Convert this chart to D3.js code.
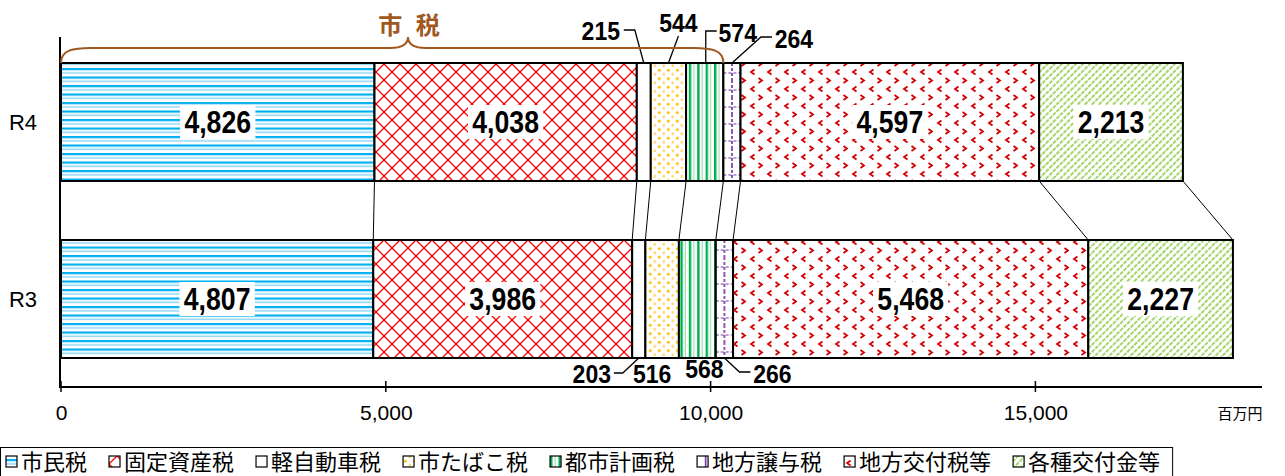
<!DOCTYPE html>
<html><head><meta charset="utf-8">
<script src="https://cdn.jsdelivr.net/npm/d3@7"></script>
<style>body{margin:0;background:#fff;overflow:hidden}</style>
</head><body><svg id="c" width="1285" height="476"></svg>
<script>
// ---- data ----
const categories = ["R4", "R3"];
const seriesNames = ["市民税","固定資産税","軽自動車税","市たばこ税","都市計画税","地方譲与税","地方交付税等","各種交付金等"];
const valuesR4 = [4826, 4038, 215, 544, 574, 264, 4597, 2213];
const valuesR3 = [4807, 3986, 203, 516, 568, 266, 5468, 2227];
const tickValues = [0, 5000, 10000, 15000];
const tickLabels = ["0", "5,000", "10,000", "15,000"];
const unitLabel = "百万円";
const groupLabel = "市 税";
const groupSeriesCount = 5;

(function () {
// ---- layout (not data) ----
const svg = d3.select("#c");
const x = d3.scaleLinear().domain([0, 18000]).range([61, 61 + 18000 * 0.06496]);
const y = d3.scaleBand().domain(categories).range([63, 358]).paddingInner(1/3).paddingOuter(0);
const JP = "'Noto Sans CJK JP','Noto Sans',sans-serif";
const NUM = "'Liberation Sans Narrow','Liberation Sans',Arial,sans-serif";

const rows = [
  {cat: "R4", vals: valuesR4},
  {cat: "R3", vals: valuesR3}
];
rows.forEach(r => {
  let c = 0;
  r.segs = r.vals.map((v, i) => { const s = {i, v, x0: c, x1: c + v, cat: r.cat}; c += v; return s; });
});

// ---- patterns ----
const defs = svg.append("defs");
function pat(id, w, h, opts = {}) {
  const p = defs.append("pattern").attr("id", id).attr("patternUnits", opts.units || "userSpaceOnUse")
    .attr("width", w).attr("height", h);
  if (opts.transform) p.attr("patternTransform", opts.transform);
  if (opts.units === "objectBoundingBox") p.attr("patternContentUnits", "userSpaceOnUse");
  p.append("rect").attr("width", opts.units === "objectBoundingBox" ? 40 : w).attr("height", opts.units === "objectBoundingBox" ? 40 : h).attr("fill", "#fff");
  return p;
}
let p = pat("p0", 8, 8.5);
p.append("rect").attr("y", 0).attr("width", 8).attr("height", 2.2).attr("fill", "#00b0f0");
p.append("rect").attr("y", 4.3).attr("width", 8).attr("height", 1.1).attr("fill", "#66c9f2");
p = pat("p1", 16, 16);
p.append("path").attr("d", "M0,0L16,16M16,0L0,16").attr("stroke", "#ff0000").attr("stroke-width", 1.3).attr("fill", "none");
p = pat("p2", 8, 8);
p = pat("p3", 9, 8.5);
p.append("circle").attr("cx", 2.25).attr("cy", 2.1).attr("r", 1.5).attr("fill", "#ffc000");
p.append("circle").attr("cx", 6.75).attr("cy", 6.4).attr("r", 1.4).attr("fill", "#ffd966");
p = pat("p4", 8.4, 10);
p.append("rect").attr("x", 0).attr("width", 2.4).attr("height", 10).attr("fill", "#00b050");
p.append("rect").attr("x", 4.4).attr("width", 1.2).attr("height", 10).attr("fill", "#9fdcb4");
p = pat("p5", 1, 0.144, {units: "objectBoundingBox"});
p.append("line").attr("x1", 8.6).attr("x2", 8.6).attr("y1", 0).attr("y2", 17).attr("stroke", "#7030a0").attr("stroke-width", 1.6).attr("stroke-dasharray", "3,2");
p.append("line").attr("x1", 0).attr("x2", 18).attr("y1", 10).attr("y2", 10).attr("stroke", "#7030a0").attr("stroke-width", 1.2).attr("stroke-dasharray", "3,2");
p = pat("p6", 17, 17);
p.append("path").attr("d", "M6.5,1.5L3,4L6.5,6.5M10.5,10L14,12.5L10.5,15").attr("stroke", "#d40000").attr("stroke-width", 1.8).attr("fill", "none");
p = pat("p7", 5, 5, {transform: "rotate(45)"});
p.append("line").attr("x1", 1).attr("x2", 1).attr("y1", 0).attr("y2", 5).attr("stroke", "#92d050").attr("stroke-width", 1.7).attr("stroke-dasharray", "2,1");

// ---- axis frame ----
svg.append("line").attr("x1", 60).attr("x2", 60).attr("y1", 37).attr("y2", 388).attr("stroke", "#000").attr("stroke-width", 2);
svg.append("line").attr("x1", 59).attr("x2", 1262).attr("y1", 387).attr("y2", 387).attr("stroke", "#000").attr("stroke-width", 2);
svg.selectAll(".tk").data(tickValues).join("line").attr("class", "tk")
  .attr("x1", d => x(d)).attr("x2", d => x(d)).attr("y1", 381).attr("y2", 392).attr("stroke", "#000").attr("stroke-width", 1.5);

const axis = d3.axisBottom(x).tickValues(tickValues).tickFormat((d, i) => tickLabels[i]).tickSize(0).tickPadding(0);
const ag = svg.append("g").attr("transform", "translate(0,405)").call(axis);
ag.select(".domain").remove();
ag.selectAll("text").attr("font-family", "'Liberation Sans',Arial,sans-serif").attr("font-size", 21).attr("fill", "#000").attr("dy", "0.71em");

svg.append("text").attr("x", 1240).attr("y", 419).attr("text-anchor", "middle").attr("font-family", JP).attr("font-size", 15).text(unitLabel);

svg.selectAll(".cat").data(categories).join("text").attr("class", "cat")
  .attr("x", 23).attr("y", d => y(d) + y.bandwidth() / 2).attr("dy", "0.36em")
  .attr("text-anchor", "middle").attr("font-family", "'Liberation Sans',Arial,sans-serif").attr("font-size", 22).text(d => d);

// ---- connectors ----
const r4 = rows[0], r3 = rows[1];
r4.segs.forEach((s, i) => {
  svg.append("line").attr("x1", x(s.x1)).attr("y1", y("R4") + y.bandwidth())
    .attr("x2", x(r3.segs[i].x1)).attr("y2", y("R3")).attr("stroke", "#000").attr("stroke-width", 1);
});

// ---- bars ----
rows.forEach(r => {
  svg.append("g").selectAll("rect").data(r.segs).join("rect")
    .attr("x", d => x(d.x0)).attr("y", y(r.cat)).attr("width", d => x(d.x1) - x(d.x0)).attr("height", y.bandwidth())
    .attr("fill", d => `url(#p${d.i})`).attr("stroke", "#000").attr("stroke-width", 2);
});

// ---- big labels ----
rows.forEach(r => {
  r.segs.filter(d => d.v >= 1000).forEach(d => {
    const cx = (x(d.x0) + x(d.x1)) / 2, cy = y(r.cat) + y.bandwidth() / 2;
    const g = svg.append("g").attr("transform", `translate(${cx},${cy}) scale(0.86,1)`);
    const t = g.append("text").attr("x", 0).attr("y", 0).attr("dy", "0.36em").attr("text-anchor", "middle")
      .attr("font-family", NUM).attr("font-weight", "bold").attr("font-size", 31).text(d3.format(",")(d.v));
    const b = t.node().getBBox();
    g.insert("rect", "text").attr("x", b.x - 5).attr("y", -17).attr("width", b.width + 10).attr("height", 34).attr("fill", "#fff");
  });
});

// ---- small labels with leaders ----
const smallLayout = {
  R4: {2: {dx: -43, ty: 40, lead: [[-20, 30], [-9, 30], [0, "b"]]},
       3: {dx: 10, ty: 32, lead: [[10, 36], [0, "b"]]},
       4: {dx: 33, ty: 42, lead: [[12, 31], [1, 31], [1, "b"]]},
       5: {dx: 62, ty: 48, lead: [[40, 37], [29, 37], [0, "b"]]}},
  R3: {2: {dx: -47, ty: 383, lead: [[-25, 373], [-16, 373], [0, "b"]]},
       3: {dx: -10, ty: 383, lead: null},
       4: {dx: 7, ty: 378, lead: null},
       5: {dx: 48, ty: 383, lead: [[0, "b"], [15, 372], [26, 372]]}}
};
rows.forEach(r => {
  r.segs.filter(d => d.v < 1000).forEach(d => {
    const L = smallLayout[r.cat][d.i];
    const cx = (x(d.x0) + x(d.x1)) / 2;
    const edge = r.cat === "R4" ? y(r.cat) : y(r.cat) + y.bandwidth();
    if (L.lead) {
      const pts = L.lead.map(([dx, yy]) => [cx + dx, yy === "b" ? edge : yy]);
      svg.append("path").attr("d", d3.line()(pts)).attr("fill", "none").attr("stroke", "#000").attr("stroke-width", 1.3);
    }
    svg.append("text").attr("transform", `translate(${cx + L.dx},${L.ty}) scale(0.92,1)`).attr("text-anchor", "middle")
      .attr("font-family", NUM).attr("font-weight", "bold").attr("font-size", 25).text(d3.format(",")(d.v));
  });
});

// ---- brace + group title ----
const bx0 = x(0), bx1 = x(r4.segs[groupSeriesCount - 1].x1), tip = 408, by = 48, barTop = y("R4");
const brace = `M${bx0},${barTop} C${bx0},${by + 2} ${bx0 + 12},${by} ${bx0 + 30},${by} L${tip - 18},${by} C${tip - 6},${by} ${tip},${by - 4} ${tip},${by - 11} C${tip},${by - 4} ${tip + 6},${by} ${tip + 18},${by} L${bx1 - 30},${by} C${bx1 - 12},${by} ${bx1},${by + 2} ${bx1},${barTop}`;
svg.append("path").attr("d", brace).attr("fill", "none").attr("stroke", "#a0581e").attr("stroke-width", 2);
svg.append("text").attr("x", 411).attr("y", 34).attr("text-anchor", "middle").attr("font-family", JP)
  .attr("font-weight", "bold").attr("font-size", 24).attr("letter-spacing", 4).attr("fill", "#a0581e").text(groupLabel);

// ---- legend ----
const frame = svg.append("rect");
const lg = svg.append("g");
let lx = 6;
seriesNames.forEach((n, i) => {
  const g = lg.append("g").attr("transform", `translate(${lx},0)`);
  g.append("rect").attr("x", 0).attr("y", 456).attr("width", 11).attr("height", 11)
    .attr("fill", `url(#p${i})`).attr("stroke", "#000").attr("stroke-width", 1.2);
  const t = g.append("text").attr("x", 15).attr("y", 470).attr("font-family", JP).attr("font-size", 22).text(n);
  lx += 15 + t.node().getComputedTextLength() + 22;
});
frame.attr("x", 0.5).attr("y", 447.5).attr("width", lx - 10).attr("height", 40)
  .attr("fill", "#fff").attr("stroke", "#000").attr("stroke-width", 1);
})();
</script></body></html>
